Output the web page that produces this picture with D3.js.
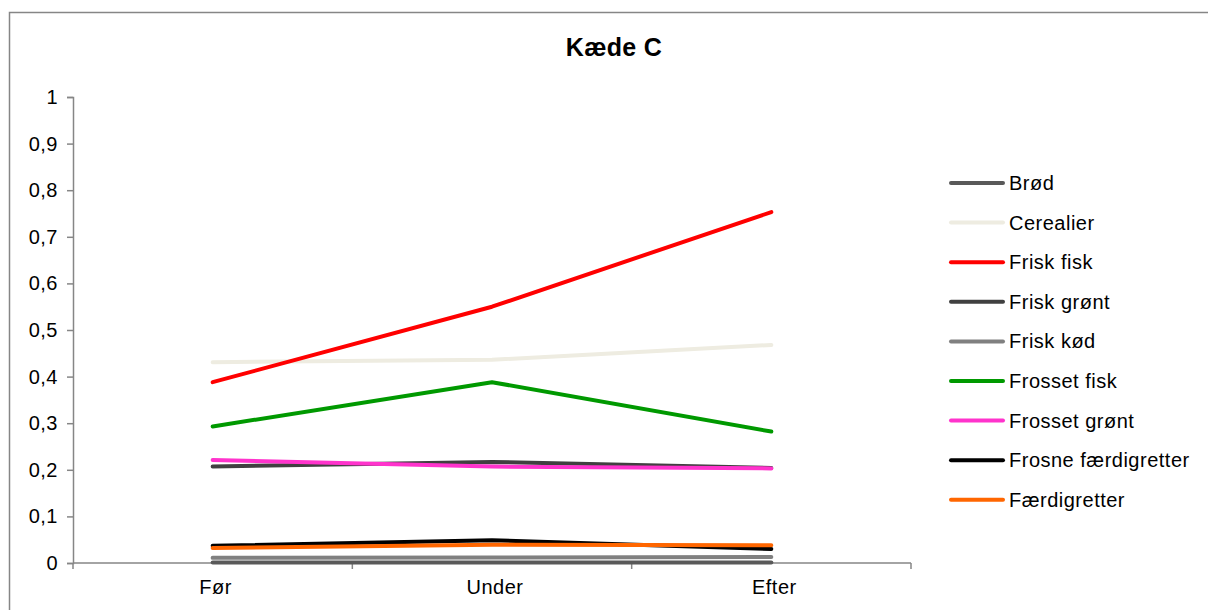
<!DOCTYPE html>
<html>
<head>
<meta charset="utf-8">
<script src="https://cdn.jsdelivr.net/npm/d3@7"></script>
<style>
  html, body { margin: 0; padding: 0; background: #fff; }
  svg { display: block; font-family: "Liberation Sans", Arial, sans-serif; }
  .lbl { font-size: 20px; letter-spacing: 0.5px; fill: #000; }
</style>
</head>
<body>
<svg id="chart" width="1208" height="610"></svg>
<script>
// Periods on the x axis
const periods = ["Før", "Under", "Efter"];

// Share per product group in each period
const brod = [0.001, 0.001, 0.001];
const cerealier = [0.431, 0.436, 0.468];
const friskFisk = [0.388, 0.550, 0.753];
const friskGront = [0.207, 0.217, 0.204];
const friskKod = [0.011, 0.012, 0.013];
const frossetFisk = [0.293, 0.388, 0.282];
const frossetGront = [0.221, 0.207, 0.203];
const frosneFaerdigretter = [0.037, 0.049, 0.030];
const faerdigretter = [0.032, 0.039, 0.038];

const seriesNames = ["Brød", "Cerealier", "Frisk fisk", "Frisk grønt", "Frisk kød",
  "Frosset fisk", "Frosset grønt", "Frosne færdigretter", "Færdigretter"];
const seriesValues = [brod, cerealier, friskFisk, friskGront, friskKod,
  frossetFisk, frossetGront, frosneFaerdigretter, faerdigretter];
const seriesColors = ["#595959", "#EEECE1", "#FF0000", "#404040", "#808080",
  "#009900", "#FF33CC", "#000000", "#FF6600"];

const yTicks = [0, 0.1, 0.2, 0.3, 0.4, 0.5, 0.6, 0.7, 0.8, 0.9, 1];

const svg = d3.select("#chart");
const axisColor = "#868686";

// Outer chart frame
svg.append("rect")
  .attr("x", 9.5).attr("y", 12.5)
  .attr("width", 1220).attr("height", 620)
  .attr("fill", "none").attr("stroke", axisColor).attr("stroke-width", 1.5);

// Title
svg.append("text")
  .attr("x", 614).attr("y", 56)
  .attr("text-anchor", "middle")
  .attr("font-size", 25).attr("font-weight", "bold")
  .attr("letter-spacing", "0.3px")
  .text("Kæde C");

const plot = { left: 73, right: 911, top: 97, bottom: 563 };

const x = d3.scaleBand().domain(periods).range([plot.left, plot.right]);
const y = d3.scaleLinear().domain([0, 1]).range([plot.bottom, plot.top]);

// Y axis
const yAxis = svg.append("g")
  .attr("transform", `translate(${plot.left},0)`)
  .call(d3.axisLeft(y).tickValues(yTicks).tickSize(6).tickPadding(9)
    .tickFormat(d => d3.format("~g")(d).replace(".", ",")));
yAxis.select(".domain").attr("stroke", axisColor).attr("stroke-width", 1.5);
yAxis.selectAll(".tick line").attr("stroke", axisColor).attr("stroke-width", 1.5);
yAxis.selectAll(".tick text").attr("class", "lbl")
  .attr("font-size", null).attr("font-family", null).attr("fill", null);

// X axis with tick marks between categories
const xAxisG = svg.append("g").attr("transform", `translate(0,${plot.bottom})`);
xAxisG.append("line")
  .attr("x1", plot.left).attr("x2", plot.right)
  .attr("stroke", axisColor).attr("stroke-width", 1.5);
const boundaries = periods.map(p => x(p)).concat([x(periods[periods.length - 1]) + x.bandwidth()]);
xAxisG.selectAll("line.tick").data(boundaries).join("line")
  .attr("class", "tick")
  .attr("x1", d => d).attr("x2", d => d)
  .attr("y1", 0).attr("y2", 6)
  .attr("stroke", axisColor).attr("stroke-width", 1.5);
xAxisG.selectAll("text").data(periods).join("text")
  .attr("class", "lbl")
  .attr("x", d => x(d) + x.bandwidth() / 2 + 3)
  .attr("y", 31)
  .attr("text-anchor", "middle")
  .text(d => d);

// Series lines
const line = d3.line()
  .x((d, i) => x(periods[i]) + x.bandwidth() / 2)
  .y(d => y(d));

svg.append("g").selectAll("path")
  .data(seriesValues)
  .join("path")
  .attr("d", d => line(d))
  .attr("fill", "none")
  .attr("stroke", (d, i) => seriesColors[i])
  .attr("stroke-width", 4)
  .attr("stroke-linecap", "round")
  .attr("stroke-linejoin", "round");

// Legend
const legend = svg.append("g");
const legendRow = legend.selectAll("g").data(seriesNames).join("g")
  .attr("transform", (d, i) => `translate(951,${183 + i * 39.6})`);
legendRow.append("line")
  .attr("x1", 0).attr("x2", 52)
  .attr("stroke", (d, i) => seriesColors[i])
  .attr("stroke-width", 4)
  .attr("stroke-linecap", "round");
legendRow.append("text")
  .attr("class", "lbl")
  .attr("x", 58).attr("y", 7)
  .text(d => d);
</script>
</body>
</html>
